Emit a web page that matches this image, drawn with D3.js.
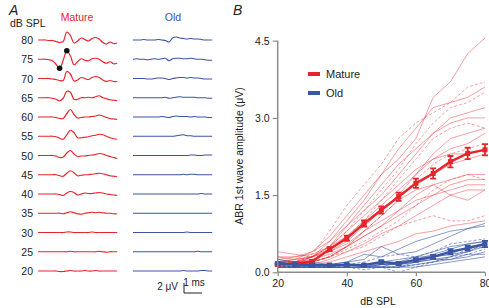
<!DOCTYPE html>
<html lang="en">
<head>
  <meta charset="utf-8">
  <title>ABR traces and 1st wave amplitude</title>
  <script src="https://cdn.jsdelivr.net/npm/d3@7"></script>
  <style>
    body { margin: 0; background: #fff; }
    svg { font-family: Helvetica, Arial, "Liberation Sans", sans-serif; }
  </style>
</head>
<body>
<svg id="fig" width="489" height="308"></svg>
<script>
// ---- panel A data: ABR traces (uV), one sample every 0.2 ms ----
var levels = [80, 75, 70, 65, 60, 55, 50, 45, 40, 35, 30, 25, 20];
var traceMs = [0,0.2,0.4,0.6,0.8,1.0,1.2,1.4,1.6,1.8,2.0,2.2,2.4,2.6,2.8,3.0,3.2,3.4,3.6,3.8,4.0,4.2,4.4];
var matureTraces = [
  [0,0,0,-0.1,-0.1,-0.3,-0.5,-0.3,1.6,0.9,-0.6,-0.2,0.4,0.1,-0.2,0.3,0.5,0.2,-0.5,-0.8,-0.4,-0.7,-0.6],
  [0,0,0,-0.1,-0.3,-1.0,-1.8,-0.2,1.7,0.7,-1.1,-0.5,0.1,-0.2,-0.3,0.1,0.2,0,-0.5,-0.8,-0.5,-0.9,-0.8],
  [0,0,0,0,-0.1,-0.2,-0.4,-0.4,1.4,0.9,-0.5,-0.3,0.2,0,-0.2,0.2,0.4,0.2,-0.3,-0.6,-0.4,-0.6,-0.6],
  [0,0,0,0,-0.1,-0.3,-0.6,-0.1,1.3,1.1,-0.3,-0.3,0,0,0.1,0,0.2,0.4,0,-0.2,-0.4,-0.5,-0.6],
  [0,0,0,0,0,-0.1,-0.3,-0.3,0.7,1.5,0.5,-0.2,-0.1,0,0,0.1,0.2,0.4,0.2,-0.1,-0.3,-0.4,-0.5],
  [0,0,0,0,0,-0.1,-0.4,-0.6,0.3,1.2,0.7,-0.3,-0.3,-0.2,-0.1,0.1,0.2,0.4,0.3,0,-0.3,-0.5,-0.6],
  [0,0,0,0,0,-0.1,-0.4,-0.3,0.5,1.0,0.3,-0.2,-0.1,-0.1,0,0.1,0.2,0.4,0.3,0,-0.2,-0.4,-0.6],
  [0,0,0,0,0,0,-0.2,-0.3,0.3,0.8,0.4,-0.2,-0.1,0,0,0.1,0.2,0.3,0.2,0,-0.2,-0.3,-0.4],
  [0,0,0,0,0,0,-0.1,-0.3,0.2,0.5,0.3,-0.2,0,0.2,0.1,0.1,0.2,0.3,0.2,0,-0.1,-0.2,-0.3],
  [0,0,0,0,0,0,0,-0.1,0.1,0.3,0.1,-0.1,-0.2,0,0.1,0.2,0.1,0.2,0.1,0,0,-0.1,-0.1],
  [0,0,0,0,0,0,0,0,0.1,0.1,0,0,0,0,0,0.1,0,0,0,0,0,0,0],
  [0,0,0,0,0,0,0,0,0,0.1,0,0,0,0,0,0,0,0.1,0,-0.1,0,0,0],
  [0,0,0,0,0,0,-0.1,-0.1,0,0.1,0,0,0,0.1,0,0,0.1,0,0,0,0,0,0]
];
var oldTraces = [
  [0,0,0,0.1,0,0,0,0.1,0,-0.1,-0.4,0.4,0.6,0.4,0.3,0.2,0.3,0.2,0.2,0.1,0,0,0],
  [0,0.1,0,0,-0.1,0,0.1,0,0.1,0.2,-0.3,0.1,0.2,0.2,0.1,0.1,0.2,0.1,0,0,-0.1,-0.2,-0.2],
  [0,0,0,0,-0.1,-0.1,0,0.1,0.1,0,-0.2,0,0.1,0.2,0.2,0.1,0.2,0.1,0.1,0,-0.1,-0.1,-0.1],
  [0,0,0,0,0,0,0,0,0,0.1,-0.1,0,0.1,0.2,0.1,0.1,0.1,0.1,0,0,0,-0.1,-0.1],
  [0,0,0,0,0,0,0,0,0.1,0,-0.1,0.1,0.2,0.1,0.1,0.1,0,0.1,0,0,0,-0.1,-0.1],
  [0,0,0,0,0,0,0,0,0,0,0,0,0.1,0.2,0.3,0.1,0.1,0,0,0,0,0,0],
  [0,0,0,0,0,0,0,0,0,0,0,0,0,0,0,0,0.1,0.1,0,0,0.1,0.1,0.1],
  [0,0,0,0,0,0,0,0,0,0,0,0,0,0,0.1,0,0.1,0.1,0,0,0,0,0],
  [0,0,0,0,0,0,0,0,0,0,0,0,0,0,0,0,0,0,0,0.1,0,0,0],
  [0,0,0,0,0,0,0,0,0,0,0,0,0,0,0,0,0,0,0,0,0,0,0],
  [0,0,0,0,0,0,0,0,0,0,0,0,0,0,0,0.1,0,0,0,0,0,0,0],
  [0,0,0,0,0,0,0,0,0,0,0,0,0,0,0,0,0,0,0.1,0,0,0,0],
  [0,0,0,0,0,0,0,0,0,0,0,0,0,0,0.1,0,0,0,0,0.1,0.1,0,0]
];
var peakMarks = [6, 8];   // trough and peak samples marked on the 75 dB trace

// ---- panel B data: 1st wave amplitude (uV) vs dB SPL ----
var dbSpl = [20, 25, 30, 35, 40, 45, 50, 55, 60, 65, 70, 75, 80];
var matureMean = [0.15, 0.17, 0.21, 0.45, 0.66, 0.95, 1.21, 1.47, 1.73, 1.92, 2.15, 2.31, 2.38];
var matureSem  = [0.02, 0.02, 0.03, 0.04, 0.05, 0.06, 0.07, 0.08, 0.09, 0.1, 0.11, 0.11, 0.11];
var oldMean = [0.17, 0.15, 0.14, 0.14, 0.15, 0.14, 0.2, 0.17, 0.24, 0.3, 0.4, 0.47, 0.55];
var oldSem  = [0.02, 0.02, 0.02, 0.02, 0.02, 0.02, 0.03, 0.03, 0.03, 0.04, 0.05, 0.05, 0.06];
var matureEars = [
  [0.2,0.25,0.4,0.7,1.1,1.5,1.9,2.2,2.6,3.4,3.7,4.25,4.55],
  [0.15,0.2,0.35,0.8,1.3,1.7,2.1,2.6,2.9,3.1,3.3,3.6,3.7],
  [0.2,0.2,0.3,0.6,1.0,1.4,1.9,2.4,2.8,3.2,3.3,3.4,3.6],
  [0.1,0.2,0.3,0.5,0.8,1.2,1.6,2.0,2.5,2.9,3.2,3.3,3.5],
  [0.25,0.3,0.4,0.6,0.9,1.3,1.7,2.1,2.4,2.7,3.0,3.1,3.2],
  [0.1,0.15,0.3,0.5,0.9,1.2,1.5,1.9,2.3,2.7,2.9,3.0,3.0],
  [0.2,0.2,0.25,0.4,0.7,1.0,1.4,1.8,2.2,2.6,2.8,2.9,2.8],
  [0.3,0.3,0.35,0.5,0.7,1.0,1.3,1.6,1.9,2.3,2.6,2.7,2.8],
  [0.15,0.2,0.3,0.45,0.7,0.9,1.2,1.5,1.9,2.2,2.4,2.5,2.7],
  [0.1,0.1,0.2,0.3,0.5,0.8,1.1,1.4,1.8,2.1,2.3,2.4,2.5],
  [0.2,0.25,0.3,0.5,0.8,1.1,1.4,1.7,2.0,2.2,2.3,2.3,2.4],
  [0.4,0.35,0.3,0.4,0.6,0.9,1.2,1.5,1.7,1.9,2.1,2.2,2.3],
  [0.15,0.15,0.2,0.3,0.5,0.7,0.9,1.2,1.5,1.7,1.8,1.9,1.9],
  [0.1,0.15,0.2,0.3,0.45,0.6,0.8,1.0,1.3,1.6,1.8,1.9,1.8],
  [0.2,0.2,0.25,0.35,0.5,0.7,0.9,1.1,1.3,1.5,1.7,1.8,1.8],
  [0.3,0.25,0.3,0.4,0.55,0.8,1.0,1.2,1.4,1.5,1.6,1.7,1.7],
  [0.1,0.1,0.15,0.25,0.4,0.55,0.75,0.9,1.1,1.3,1.5,1.6,1.6],
  [0.2,0.15,0.2,0.3,0.4,0.5,0.7,0.9,1.0,1.1,1.0,1.0,1.1],
  [0.1,0.1,0.15,0.2,0.3,0.4,0.5,0.6,0.75,0.8,0.9,0.95,1.0],
  [0.25,0.2,0.2,0.3,0.5,0.8,1.1,1.4,1.6,1.7,1.5,1.4,1.6]
];
var matureDashed = [1, 3, 6, 9, 13, 17];
var oldEars = [
  [0.2,0.15,0.15,0.15,0.2,0.25,0.5,0.35,0.4,0.55,0.7,0.85,0.95],
  [0.15,0.1,0.1,0.15,0.2,0.35,0.3,0.45,0.6,0.7,0.8,0.85,0.9],
  [0.1,0.1,0.1,0.1,0.15,0.2,0.3,0.35,0.3,0.4,0.55,0.6,0.65],
  [0.2,0.2,0.15,0.15,0.15,0.15,0.2,0.25,0.3,0.4,0.5,0.55,0.6],
  [0.15,0.15,0.15,0.1,0.1,0.1,0.15,0.2,0.25,0.35,0.45,0.55,0.6],
  [0.1,0.1,0.1,0.1,0.1,0.1,0.15,0.15,0.2,0.3,0.35,0.5,0.55],
  [0.25,0.2,0.15,0.15,0.15,0.1,0.1,0.1,0.2,0.25,0.3,0.4,0.5],
  [0.1,0.1,0.1,0.1,0.1,0.1,0.1,0.0,0.1,0.2,0.3,0.35,0.45],
  [0.15,0.15,0.1,0.1,0.1,0.1,0.1,0.1,0.15,0.2,0.25,0.3,0.4],
  [0.1,0.1,0.1,0.1,0.1,0.1,0.1,0.1,0.1,0.15,0.2,0.25,0.3],
  [0.2,0.15,0.2,0.15,0.15,0.15,0.15,0.15,0.2,0.25,0.25,0.35,0.35],
  [0.15,0.1,0.1,0.1,0.1,0.05,0.1,0.1,0.15,0.2,0.3,0.45,0.5],
  [0.1,0.1,0.1,0.1,0.15,0.15,0.1,0.2,0.3,0.3,0.35,0.4,0.55]
];
var oldDashed = [2, 7, 11];
var yTicks = [0, 1.5, 3.0, 4.5];
var xTicks = [20, 40, 60, 80];

var RED = "#e8242b", BLUE = "#3a55a5", TXT = "#222";
var svg = d3.select("#fig");

// ================= panel A =================
var tA = d3.scaleLinear().domain([0, 1]).range([0, 18]);       // 18 px per ms
var uvA = d3.scaleLinear().domain([0, 1]).range([0, -5]);      // 5 px per uV
var rowY = d3.scaleLinear().domain([80, 20]).range([40, 271]);
var traceLine = d3.line()
    .x(function(d, i) { return tA(traceMs[i]); })
    .y(function(d) { return uvA(d); })
    .curve(d3.curveCatmullRom);

var gA = svg.append("g");
gA.append("text").attr("x", 9).attr("y", 15).attr("font-size", 14)
    .attr("font-style", "italic").attr("fill", TXT).text("A");
gA.append("text").attr("x", 10).attr("y", 27).attr("font-size", 10.5)
    .attr("fill", TXT).text("dB SPL");
gA.append("text").attr("x", 77).attr("y", 21).attr("font-size", 10.5)
    .attr("text-anchor", "middle").attr("fill", RED).text("Mature");
gA.append("text").attr("x", 173).attr("y", 21).attr("font-size", 10.5)
    .attr("text-anchor", "middle").attr("fill", BLUE).text("Old");

levels.forEach(function(lv, k) {
  var row = gA.append("g").attr("transform", "translate(0," + rowY(lv) + ")");
  row.append("text").attr("x", 33).attr("y", 4).attr("font-size", 10.5)
      .attr("text-anchor", "end").attr("fill", TXT).text(lv);
  row.append("path").attr("transform", "translate(38,0)")
      .attr("d", traceLine(matureTraces[k]))
      .attr("fill", "none").attr("stroke", RED).attr("stroke-width", 1.2);
  row.append("path").attr("transform", "translate(133,0)")
      .attr("d", traceLine(oldTraces[k]))
      .attr("fill", "none").attr("stroke", BLUE).attr("stroke-width", 1.1);
  if (lv === 75) {
    row.selectAll("circle").data(peakMarks).enter().append("circle")
        .attr("cx", function(i) { return 38 + tA(traceMs[i]); })
        .attr("cy", function(i) { return uvA(matureTraces[k][i]); })
        .attr("r", 2.8).attr("fill", "#111");
  }
});

// scale bar: 2 uV / 1 ms
var sbX = 184, sbY = 293;
gA.append("path")
    .attr("d", "M" + sbX + "," + (sbY + uvA(2)) + "V" + sbY + "H" + (sbX + tA(1)))
    .attr("fill", "none").attr("stroke", TXT).attr("stroke-width", 1);
gA.append("text").attr("x", 178).attr("y", 290).attr("font-size", 10)
    .attr("text-anchor", "end").attr("fill", TXT).text("2 \u03bcV");
gA.append("text").attr("x", sbX + tA(1) / 2 + 1).attr("y", 286).attr("font-size", 10)
    .attr("text-anchor", "middle").attr("fill", TXT).text("1 ms");

// ================= panel B =================
var x = d3.scaleLinear().domain([20, 80]).range([277.7, 485]);
var y = d3.scaleLinear().domain([0, 4.5]).range([272.3, 40.7]);

var gB = svg.append("g");
gB.append("text").attr("x", 233).attr("y", 15).attr("font-size", 14)
    .attr("font-style", "italic").attr("fill", TXT).text("B");

var ampLine = d3.line()
    .x(function(d, i) { return x(dbSpl[i]); })
    .y(function(d) { return y(d); });

function drawEars(data, dashed, color, op) {
  gB.append("g").selectAll("path").data(data).enter().append("path")
      .attr("d", ampLine)
      .attr("fill", "none").attr("stroke", color)
      .attr("stroke-opacity", op).attr("stroke-width", 0.8)
      .attr("stroke-dasharray", function(d, i) { return dashed.indexOf(i) >= 0 ? "3,2" : null; });
}
drawEars(matureEars, matureDashed, RED, 0.55);
drawEars(oldEars, oldDashed, BLUE, 0.75);

function drawMean(mean, sem, color) {
  var g = gB.append("g");
  g.append("path").attr("d", ampLine(mean))
      .attr("fill", "none").attr("stroke", color).attr("stroke-width", 2.4);
  var pts = g.selectAll("g.pt").data(dbSpl).enter().append("g").attr("class", "pt");
  pts.append("path")
      .attr("d", function(db, i) {
        var cx = x(db), hi = y(mean[i] + sem[i]), lo = y(mean[i] - sem[i]);
        return "M" + (cx - 3) + "," + hi + "H" + (cx + 3) +
               "M" + cx + "," + hi + "V" + lo +
               "M" + (cx - 3) + "," + lo + "H" + (cx + 3);
      })
      .attr("fill", "none").attr("stroke", color).attr("stroke-width", 1.8);
  pts.append("rect")
      .attr("x", function(db) { return x(db) - 2.5; })
      .attr("y", function(db, i) { return y(mean[i]) - 2.5; })
      .attr("width", 5).attr("height", 5).attr("fill", color);
}
drawMean(matureMean, matureSem, RED);
drawMean(oldMean, oldSem, BLUE);

// axes
var yAxis = gB.append("g").attr("transform", "translate(" + x(20) + ",0)")
    .call(d3.axisLeft(y).tickValues(yTicks).tickFormat(d3.format(".1f")).tickSize(5).tickPadding(3));
var xAxis = gB.append("g").attr("transform", "translate(0," + y(0) + ")")
    .call(d3.axisBottom(x).tickValues(xTicks).tickSize(4).tickPadding(3));
[yAxis, xAxis].forEach(function(ax) {
  ax.select(".domain").attr("stroke", "#8c8c8c").attr("stroke-width", 1.5);
  ax.selectAll(".tick line").attr("stroke", "#8c8c8c").attr("stroke-width", 1.2);
  ax.selectAll(".tick text").attr("fill", TXT).attr("font-size", 10.5)
      .attr("font-family", "Helvetica, Arial, 'Liberation Sans', sans-serif");
});
xAxis.select(".domain").attr("d", "M" + x(20) + ",0H" + x(80));
yAxis.select(".domain").attr("d", "M0," + y(0) + "V" + y(4.5));

gB.append("text").attr("x", 378).attr("y", 305).attr("font-size", 10.5)
    .attr("text-anchor", "middle").attr("fill", TXT).text("dB SPL");
gB.append("text").attr("transform", "translate(243,156) rotate(-90)")
    .attr("font-size", 10.5).attr("text-anchor", "middle").attr("fill", TXT)
    .text("ABR 1st wave amplitude (\u03bcV)");

// legend
var legend = [["Mature", RED], ["Old", BLUE]];
var lg = gB.append("g").selectAll("g").data(legend).enter().append("g")
    .attr("transform", function(d, i) { return "translate(308," + (74 + i * 19) + ")"; });
lg.append("rect").attr("x", 0).attr("y", -2).attr("width", 12).attr("height", 4)
    .attr("fill", function(d) { return d[1]; });
lg.append("text").attr("x", 18).attr("y", 4).attr("font-size", 11)
    .attr("fill", TXT).text(function(d) { return d[0]; });
</script>
</body>
</html>
